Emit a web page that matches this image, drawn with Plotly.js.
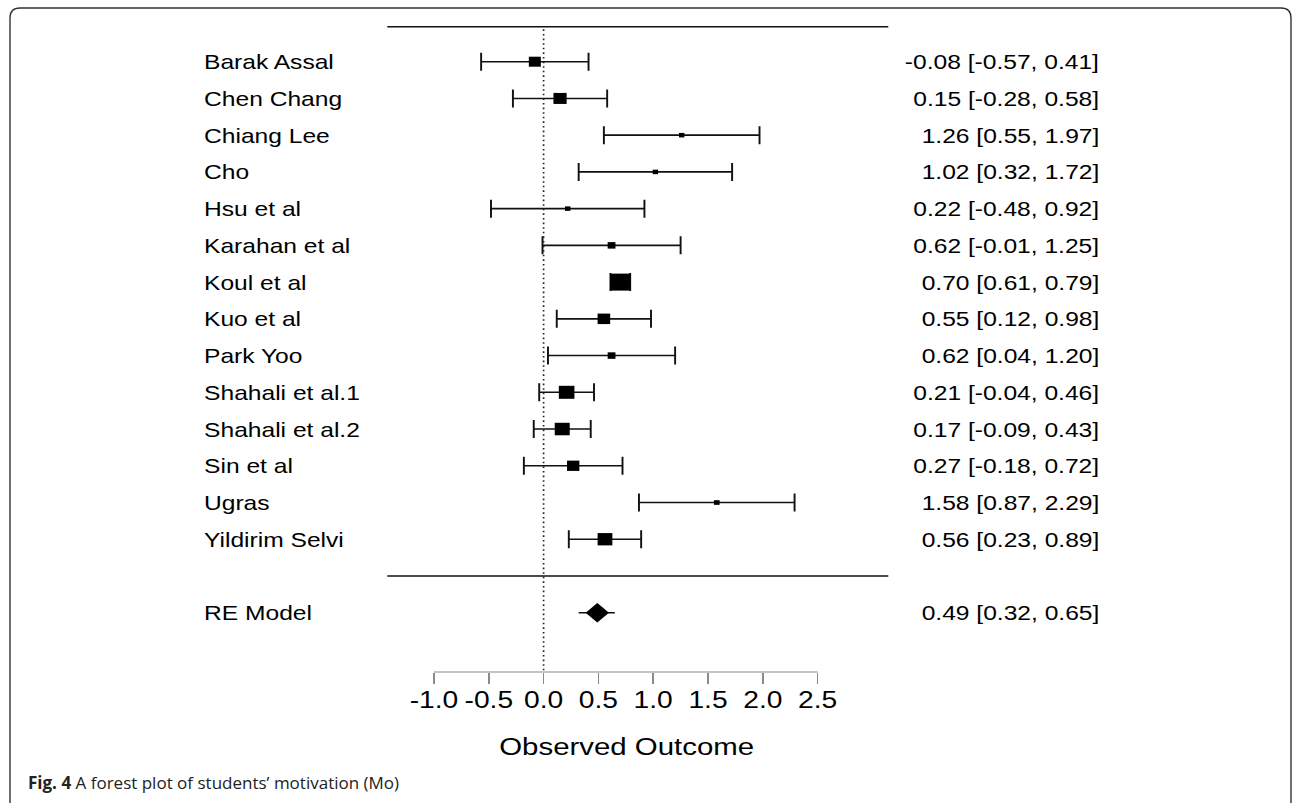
<!DOCTYPE html>
<html>
<head>
<meta charset="utf-8">
<script src="https://cdn.plot.ly/plotly-3.0.1.min.js"></script>
<style>
  html, body { margin: 0; padding: 0; background: #ffffff; overflow: hidden; }
  #wrap { position: relative; width: 1292px; height: 803px; overflow: hidden; }
  #chart { position: absolute; left: 0; top: 0; transform-origin: 0 0; }
  #frame { position: absolute; left: 0; top: 0; width: 1292px; height: 803px; pointer-events: none; }
</style>
</head>
<body>
<div id="wrap">
  <div id="chart"></div>
  <div id="frame"></div>
</div>
<script>
// ---------------- data ----------------
const studies = ["Barak Assal", "Chen Chang", "Chiang Lee", "Cho", "Hsu et al", "Karahan et al",
  "Koul et al", "Kuo et al", "Park Yoo", "Shahali et al.1", "Shahali et al.2", "Sin et al",
  "Ugras", "Yildirim Selvi"];
const estimate = [-0.08, 0.15, 1.26, 1.02, 0.22, 0.62, 0.70, 0.55, 0.62, 0.21, 0.17, 0.27, 1.58, 0.56];
const ciLower  = [-0.57, -0.28, 0.55, 0.32, -0.48, -0.01, 0.61, 0.12, 0.04, -0.04, -0.09, -0.18, 0.87, 0.23];
const ciUpper  = [0.41, 0.58, 1.97, 1.72, 0.92, 1.25, 0.79, 0.98, 1.20, 0.46, 0.43, 0.72, 2.29, 0.89];
const modelLabel = "RE Model";
const modelEstimate = 0.49;
const modelLower = 0.32;
const modelUpper = 0.65;
const tickValues = [-1.0, -0.5, 0.0, 0.5, 1.0, 1.5, 2.0, 2.5];
const tickLabels = ["-1.0", "-0.5", "0.0", "0.5", "1.0", "1.5", "2.0", "2.5"];
const axisTitle = "Observed Outcome";
const captionBold = "Fig. 4";
const captionText = " A forest plot of students\u2019 motivation (Mo)";

// ---------------- style / geometry ----------------
const boxPx = [10, 11, 4.5, 4.5, 4.5, 6.5, 17, 10.5, 6.5, 13, 12.5, 10.3, 4.7, 12.3];
const SCREEN_W = 1292, H = 803;
const STRETCH = 1.2;                 // horizontal stretch of the original figure
const W = Math.round(SCREEN_W / STRETCH);
const PX_PER_UNIT = 109.6, ZERO_PX = 543.6;   // screen pixels
const xLeft = (0 - ZERO_PX) / PX_PER_UNIT;
const xRight = (W * STRETCH - ZERO_PX) / PX_PER_UNIT;
const rowTopPx = 61.7, rowModelPx = 612.7;
const k = studies.length;
const rowStep = (rowModelPx - rowTopPx) / (k + 1);
const marginB = 131;
const plotH = H - marginB;
const yTop = k + rowTopPx / rowStep;
const yBot = -1 - (plotH - rowModelPx) / rowStep;
const lineX0 = (387.3 - ZERO_PX) / PX_PER_UNIT;
const lineX1 = (888.3 - ZERO_PX) / PX_PER_UNIT;
const labelX = (201.7 - ZERO_PX) / PX_PER_UNIT;
const valueX = (1102 - ZERO_PX) / PX_PER_UNIT;
const FONT = "Liberation Sans, Arial, Helvetica, sans-serif";
const INK = "#000000";

const rowY = studies.map((_, i) => k - i);
const fmt = v => v.toFixed(2);

const studyTrace = {
  type: "scatter", mode: "markers", x: estimate, y: rowY,
  marker: { symbol: "square", size: boxPx, color: "#000000", opacity: 1, line: { width: 0 } },
  error_x: {
    type: "data", symmetric: false,
    array: estimate.map((e, i) => ciUpper[i] - e),
    arrayminus: estimate.map((e, i) => e - ciLower[i]),
    color: "#111111", thickness: 1.6, width: 9
  },
  hoverinfo: "skip", showlegend: false, cliponaxis: false
};
const modelTrace = {
  type: "scatter", mode: "markers", x: [modelEstimate], y: [-1],
  marker: { symbol: "diamond", size: 15, color: "#000000", opacity: 1, line: { width: 0 } },
  error_x: {
    type: "data", symmetric: false,
    array: [modelUpper - modelEstimate], arrayminus: [modelEstimate - modelLower],
    color: "#111111", thickness: 1.6, width: 0
  },
  hoverinfo: "skip", showlegend: false, cliponaxis: false
};

const annotations = [];
studies.forEach((s, i) => {
  annotations.push({ x: labelX, y: rowY[i], xref: "x", yref: "y", text: s, showarrow: false,
    xanchor: "left", yanchor: "middle", font: { family: FONT, size: 20.5, color: INK } });
  annotations.push({ x: valueX, y: rowY[i], xref: "x", yref: "y",
    text: fmt(estimate[i]) + " [" + fmt(ciLower[i]) + ", " + fmt(ciUpper[i]) + "]",
    showarrow: false, xanchor: "right", yanchor: "middle",
    font: { family: FONT, size: 20.5, color: INK } });
});
annotations.push({ x: labelX, y: -1, xref: "x", yref: "y", text: modelLabel, showarrow: false,
  xanchor: "left", yanchor: "middle", font: { family: FONT, size: 20.5, color: INK } });
annotations.push({ x: valueX, y: -1, xref: "x", yref: "y",
  text: fmt(modelEstimate) + " [" + fmt(modelLower) + ", " + fmt(modelUpper) + "]",
  showarrow: false, xanchor: "right", yanchor: "middle",
  font: { family: FONT, size: 20.5, color: INK } });
annotations.push({ x: (tickValues[0] + tickValues[tickValues.length - 1]) / 2,
  y: (plotH - 746) / plotH, xref: "x", yref: "paper",
  text: axisTitle, showarrow: false, xanchor: "center", yanchor: "middle",
  font: { family: FONT, size: 24.5, color: INK } });

const shapes = [
  { type: "line", xref: "x", yref: "y", x0: lineX0, x1: lineX1, y0: k + 0.95, y1: k + 0.95,
    line: { color: "#111111", width: 1.5 } },
  { type: "line", xref: "x", yref: "y", x0: lineX0, x1: lineX1, y0: 0, y1: 0,
    line: { color: "#111111", width: 1.5 } },
  { type: "line", xref: "x", yref: "y", x0: 0, x1: 0, y0: k + 0.88, y1: yBot,
    line: { color: "#222222", width: 1.4, dash: "1.6px,3px" } },
  { type: "line", xref: "x", yref: "paper", x0: tickValues[0], x1: tickValues[tickValues.length - 1], y0: 0, y1: 0,
    line: { color: "#8a8a8a", width: 1.2 } }
];

const layout = {
  width: W, height: H,
  margin: { l: 0, r: 0, t: 0, b: marginB, pad: 0 },
  paper_bgcolor: "#ffffff", plot_bgcolor: "rgba(0,0,0,0)",
  showlegend: false,
  xaxis: {
    range: [xLeft, xRight], fixedrange: true,
    showgrid: false, zeroline: false, showline: false,
    tickmode: "array", tickvals: tickValues, ticktext: tickLabels,
    ticks: "outside", ticklen: 11, tickwidth: 1.2, tickcolor: "#8a8a8a",
    ticklabelstandoff: -4,
    tickfont: { family: FONT, size: 23.5, color: INK }
  },
  yaxis: {
    range: [yBot, yTop], fixedrange: true,
    showgrid: false, zeroline: false, showline: false, showticklabels: false, ticks: ""
  },
  shapes: shapes,
  annotations: annotations
};

const chartDiv = document.getElementById("chart");
chartDiv.style.width = W + "px";
chartDiv.style.height = H + "px";
chartDiv.style.transform = "scaleX(" + STRETCH + ")";
Plotly.newPlot(chartDiv, [studyTrace, modelTrace], layout, { staticPlot: true, displayModeBar: false });

// ---------------- frame + caption (unstretched) ----------------
const fx0 = 10, fy0 = 8, fx1 = 1291, fy1 = 815, rr = 10;
const framePath = "M" + fx0 + "," + (fy1) + " L" + fx0 + "," + (fy0 + rr) +
  " Q" + fx0 + "," + fy0 + " " + (fx0 + rr) + "," + fy0 +
  " L" + (fx1 - rr) + "," + fy0 + " Q" + fx1 + "," + fy0 + " " + fx1 + "," + (fy0 + rr) +
  " L" + fx1 + "," + fy1;
Plotly.newPlot("frame", [], {
  width: SCREEN_W, height: H,
  margin: { l: 0, r: 0, t: 0, b: 0, pad: 0 },
  paper_bgcolor: "rgba(0,0,0,0)", plot_bgcolor: "rgba(0,0,0,0)",
  xaxis: { range: [0, SCREEN_W], visible: false, fixedrange: true },
  yaxis: { range: [H, 0], visible: false, fixedrange: true },
  shapes: [{ type: "path", xref: "x", yref: "y", path: framePath, line: { color: "#333333", width: 1.4 } }],
  annotations: [{ x: 26, y: 782, xref: "x", yref: "y", showarrow: false, xanchor: "left", yanchor: "middle",
    text: "<b>" + captionBold + "</b>" + captionText,
    font: { family: "Open Sans, Noto Sans, sans-serif", size: 17, color: "#222222" } }]
}, { staticPlot: true, displayModeBar: false });
</script>
</body>
</html>
